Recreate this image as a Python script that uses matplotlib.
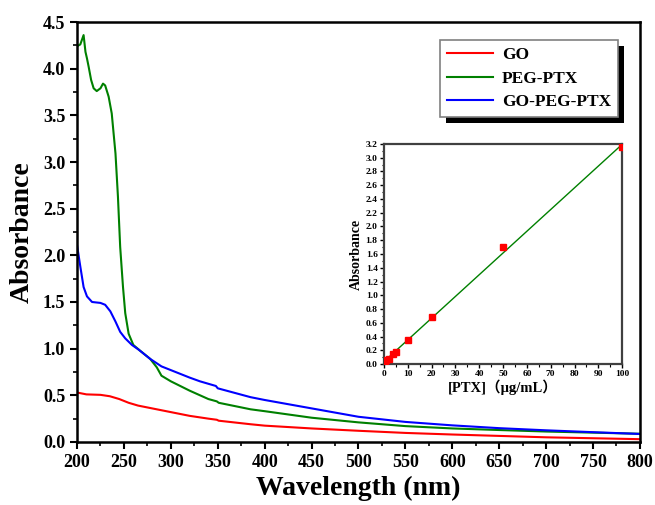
import matplotlib
matplotlib.use("Agg")

import matplotlib.pyplot as plt
import numpy as np
from matplotlib.patches import Rectangle
from matplotlib.ticker import MultipleLocator

plt.rcParams["font.family"] = ["Liberation Serif", "DejaVu Serif"]
plt.rcParams["font.weight"] = "bold"

# ── 데이터 ─────────────────────────────────────────────────────────
wl_go = [200, 210, 225, 235, 245, 255, 265, 280, 300, 320, 340, 349, 351,
         385, 400, 450, 500, 550, 600, 650, 700, 750, 800]
abs_go = [0.53, 0.51, 0.505, 0.49, 0.46, 0.42, 0.39, 0.36, 0.32, 0.28, 0.25,
          0.238, 0.228, 0.19, 0.175, 0.145, 0.12, 0.097, 0.08, 0.065, 0.05,
          0.04, 0.03]

wl_peg = [200, 203.5, 207, 209, 210.6, 212.4, 215, 217.7, 221, 225, 227.7,
          230, 233.7, 237, 241, 243.6, 246, 249, 251.4, 255, 260, 267, 278,
          285, 290, 300, 320, 340, 349, 351, 385, 400, 450, 500, 550, 600,
          650, 700, 750, 800]
abs_peg = [4.24, 4.26, 4.36, 4.18, 4.11, 4.02, 3.88, 3.79, 3.76, 3.79, 3.84,
           3.82, 3.70, 3.52, 3.09, 2.63, 2.09, 1.66, 1.38, 1.16, 1.04, 0.98,
           0.89, 0.80, 0.71, 0.65, 0.55, 0.46, 0.435, 0.42, 0.35, 0.33, 0.26,
           0.21, 0.17, 0.145, 0.128, 0.112, 0.10, 0.088]

wl_gopeg = [200, 203.5, 207, 210.6, 216, 225, 230, 235.5, 241, 246, 251.4,
            258.5, 265.6, 278, 290, 300, 320, 331, 348, 350, 385, 400, 450,
            500, 550, 600, 650, 700, 750, 800]
abs_gopeg = [2.11, 1.88, 1.66, 1.56, 1.50, 1.49, 1.47, 1.40, 1.29, 1.18, 1.11,
             1.04, 0.99, 0.89, 0.81, 0.77, 0.69, 0.65, 0.60, 0.575, 0.48, 0.45,
             0.36, 0.27, 0.215, 0.178, 0.148, 0.125, 0.105, 0.086]

ptx_conc = [0.5, 1, 2, 4, 5, 10, 20, 50, 100]
ptx_abs = [0.04, 0.06, 0.08, 0.15, 0.18, 0.345, 0.69, 1.70, 3.15]

# ── 그림 ─────────────────────────────────────────────────────────────────
fig = plt.figure(figsize=(6.55, 5.05), dpi=100)
ax = fig.add_axes([0.1176, 0.1248, 0.8594, 0.8316])

ax.plot(wl_go, abs_go, color="#ff0000", lw=1.5, label="GO")
ax.plot(wl_peg, abs_peg, color="#008000", lw=1.5, label="PEG-PTX")
ax.plot(wl_gopeg, abs_gopeg, color="#0000ff", lw=1.5, label="GO-PEG-PTX")

ax.set_xlim(200, 800)
ax.set_ylim(0, 4.5)
ax.xaxis.set_major_locator(MultipleLocator(50))
ax.xaxis.set_minor_locator(MultipleLocator(25))
ax.yaxis.set_major_locator(MultipleLocator(0.5))
ax.yaxis.set_minor_locator(MultipleLocator(0.25))
ax.yaxis.set_major_formatter(plt.FormatStrFormatter("%.1f"))
ax.tick_params(which="major", direction="out", length=5, width=1.5,
               labelsize=13, top=False, right=False)
ax.tick_params(which="minor", direction="out", length=3, width=1.2,
               top=False, right=False)
for s in ax.spines.values():
    s.set_linewidth(1.8)
ax.set_xlabel("Wavelength (nm)", fontsize=20, fontweight="bold", labelpad=4)
ax.set_ylabel("Absorbance", fontsize=20, fontweight="bold", labelpad=6)

leg = ax.legend(loc="upper right", bbox_to_anchor=(0.961, 0.957),
                borderaxespad=0, fontsize=12.5, frameon=True, fancybox=False,
                handlelength=2.65, labelspacing=0.42, borderpad=0.4,
                handletextpad=0.5)
leg.get_frame().set_edgecolor("#808080")
leg.get_frame().set_linewidth(1.2)
leg.get_frame().set_alpha(1)

fig.canvas.draw()
bb = leg.get_window_extent().transformed(fig.transFigure.inverted())
dx, dy = 6 / 655, -6 / 505
shadow = Rectangle((bb.x0 + dx, bb.y0 + dy), bb.width, bb.height,
                   transform=fig.transFigure, facecolor="black",
                   edgecolor="none", zorder=0)
ax.add_artist(shadow)
shadow.set_clip_on(False)
leg.set_zorder(5)

# ── inset: 검량선 ────────────────────────────────────────────────────────
ins = fig.add_axes([0.586, 0.279, 0.364, 0.436])
coef = np.polyfit(ptx_conc, ptx_abs, 1)
xfit = np.array([0, 100])
ins.plot(xfit, np.polyval(coef, xfit), color="#008000", lw=1.0, zorder=2)
ins.plot(ptx_conc, ptx_abs, "s", color="#ff0000", ms=4, zorder=3)
ins.set_xlim(0, 100)
ins.set_ylim(0, 3.2)
ins.xaxis.set_major_locator(MultipleLocator(10))
ins.xaxis.set_minor_locator(MultipleLocator(5))
ins.yaxis.set_major_locator(MultipleLocator(0.2))
ins.yaxis.set_minor_locator(MultipleLocator(0.1))
ins.yaxis.set_major_formatter(plt.FormatStrFormatter("%.1f"))
ins.tick_params(which="major", direction="out", length=3, width=1,
                labelsize=6.8, pad=1.5, top=False, right=False)
ins.tick_params(which="minor", direction="out", length=1.8, width=0.8,
                top=False, right=False)
for s in ins.spines.values():
    s.set_linewidth(1.6)
    s.set_edgecolor("#404040")
ins.set_xlabel("[PTX]（μg/mL）", fontsize=10.5, fontweight="bold", labelpad=1,
               family=["Liberation Serif", "Noto Sans CJK SC"])
ins.set_ylabel("Absorbance", fontsize=10, fontweight="bold", labelpad=2)

fig.savefig("out.png", dpi=100)
